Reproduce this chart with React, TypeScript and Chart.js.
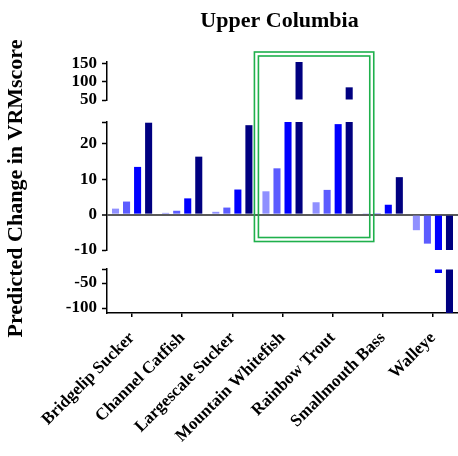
import React, { useEffect, useRef } from 'react';
import { Chart, registerables } from 'chart.js';

Chart.register(...registerables);

// ---------- data ----------
const TITLE = 'Upper Columbia';
const Y_TITLE = 'Predicted Change in VRMscore';
const CATEGORIES = [
  'Bridgelip Sucker',
  'Channel Catfish',
  'Largescale Sucker',
  'Mountain Whitefish',
  'Rainbow Trout',
  'Smallmouth Bass',
  'Walleye',
];
const SERIES_1 = [1.7, 0.5, 0.8, 6.6, 3.5, 0.2, -4.4];
const SERIES_2 = [3.7, 1.1, 2.0, 13.1, 7.0, 0.4, -8.2];
const SERIES_3 = [13.5, 4.6, 7.1, 26.5, 25.6, 2.8, -30];
const SERIES_4 = [26, 16.4, 25.3, 155, 85, 10.6, -110];
const SERIES = [SERIES_1, SERIES_2, SERIES_3, SERIES_4];
const SERIES_COLORS = ['#9090ff', '#5c5cff', '#0000ff', '#000080'];

// broken y axis: three panels
const TOP_RANGE = [50, 155];
const TOP_TICKS = [50, 100, 150];
const MID_RANGE = [-10, 26.2];
const MID_TICKS = [-10, 0, 10, 20];
const BOT_RANGE = [-110, -22];
const BOT_TICKS = [-100, -50];

const HIGHLIGHT = ['Mountain Whitefish', 'Rainbow Trout'];
const HIGHLIGHT_BOTTOM_VALUE = -7.6;

// ---------- layout / style ----------
const W = 458;
const H = 456;
const AXIS_LEFT = 107;
const X_AXIS_H = 143;
const FONT = 'Liberation Serif';

// listed bottom-to-top (Chart.js stacks left axes from the bottom up)
const PANELS = [
  { id: 'yBot', range: BOT_RANGE, ticks: BOT_TICKS, cap: true, weight: 44 },
  { id: 'gap2', spacer: true, weight: 19 },
  { id: 'yMid', range: MID_RANGE, ticks: MID_TICKS, cap: true, weight: 128 },
  { id: 'gap1', spacer: true, weight: 22 },
  { id: 'yTop', range: TOP_RANGE, ticks: TOP_TICKS, cap: false, weight: 38 },
];
const PANEL_ORDER_FOR_DATA = ['yTop', 'yMid', 'yBot'];

function panelData(values: number[], range: number[]) {
  const [mn, mx] = range;
  return values.map((v) => {
    if (mn >= 0) return v > mn ? Math.min(v, mx) : null;
    if (mx <= 0) return v < mx ? Math.max(v, mn) : null;
    return Math.max(mn, Math.min(mx, v));
  });
}
function panelBase(range: number[]) {
  const [mn, mx] = range;
  if (mn >= 0) return mn;
  if (mx <= 0) return mx;
  return 0;
}

const tickFont = { family: FONT, weight: 'bold' as const, size: 17 };

function buildScales() {
  const scales: any = {
    x: {
      type: 'category',
      labels: CATEGORIES,
      stacked: true,
      offset: true,
      border: { display: true, color: '#000', width: 1.5 },
      grid: {
        display: true,
        offset: false,
        drawOnChartArea: false,
        drawTicks: true,
        tickLength: 4,
        color: '#000',
        lineWidth: 1.5,
      },
      ticks: {
        minRotation: 45,
        maxRotation: 45,
        autoSkip: false,
        color: '#000',
        font: tickFont,
        padding: 11,
      },
      afterFit: (s: any) => {
        s.height = X_AXIS_H;
        s.paddingLeft = 0;
        s.paddingRight = 0;
      },
    },
  };
  PANELS.forEach((p: any) => {
    if (p.spacer) {
      scales[p.id] = {
        type: 'linear',
        axis: 'y',
        position: 'left',
        stack: 'v',
        stackWeight: p.weight,
        min: 0,
        max: 1,
        border: { display: false },
        grid: { display: false },
        ticks: { display: false },
        afterFit: (s: any) => {
          s.width = AXIS_LEFT;
        },
      };
      return;
    }
    scales[p.id] = {
      type: 'linear',
      axis: 'y',
      position: 'left',
      stack: 'v',
      stackWeight: p.weight,
      stacked: false,
      min: p.range[0],
      max: p.range[1],
      border: { display: true, color: '#000', width: 1.5 },
      grid: {
        drawOnChartArea: true,
        drawTicks: true,
        tickLength: 5,
        tickColor: '#000',
        tickWidth: 1.5,
        color: (ctx: any) => (ctx.tick && ctx.tick.value === 0 ? '#5a5a5a' : 'rgba(0,0,0,0)'),
        lineWidth: (ctx: any) => (ctx.tick && ctx.tick.value === 0 ? 2 : 1),
      },
      afterBuildTicks: (s: any) => {
        const vals = p.cap ? [...p.ticks, p.range[1]] : [...p.ticks];
        s.ticks = vals.map((v: number) => ({ value: v }));
      },
      afterFit: (s: any) => {
        s.width = AXIS_LEFT;
      },
      ticks: {
        autoSkip: false,
        color: '#000',
        font: tickFont,
        padding: 5,
        callback: (v: any) => (p.ticks.includes(v) ? String(v) : ''),
      },
    };
  });
  return scales;
}

function buildDatasets() {
  const ds: any[] = [];
  SERIES.forEach((values, si) => {
    PANEL_ORDER_FOR_DATA.forEach((id) => {
      const p: any = PANELS.find((q) => q.id === id);
      ds.push({
        label: `Series ${si + 1}`,
        data: panelData(values, p.range),
        base: panelBase(p.range),
        yAxisID: p.id,
        xAxisID: 'x',
        stack: 's' + si,
        backgroundColor: SERIES_COLORS[si],
        borderWidth: 0,
        barPercentage: 0.64,
        categoryPercentage: 0.88,
      });
    });
  });
  return ds;
}

const annotationPlugin = {
  id: 'annot',
  afterDraw(chart: any) {
    const { ctx, chartArea, scales } = chart;
    ctx.save();
    // title
    ctx.fillStyle = '#000';
    ctx.font = `bold 22px "${FONT}"`;
    ctx.textAlign = 'center';
    ctx.textBaseline = 'middle';
    ctx.fillText(TITLE, (chartArea.left + chartArea.right) / 2 - 3, chartArea.top - 41);
    // y title
    ctx.save();
    ctx.translate(16, (chartArea.top + chartArea.bottom) / 2 + 1);
    ctx.rotate(-Math.PI / 2);
    ctx.fillText(Y_TITLE, 0, 0);
    ctx.restore();
    // highlight box
    const x = scales.x;
    const iA = CATEGORIES.indexOf(HIGHLIGHT[0]);
    const iB = CATEGORIES.indexOf(HIGHLIGHT[1]);
    const cw = x.getPixelForValue(1) - x.getPixelForValue(0);
    const left = x.getPixelForValue(iA) - 0.56 * cw;
    const right = x.getPixelForValue(iB) + 0.82 * cw;
    const top = chartArea.top - 10;
    const bottom = scales.yMid.getPixelForValue(HIGHLIGHT_BOTTOM_VALUE);
    ctx.strokeStyle = '#1fb04c';
    ctx.lineWidth = 1.6;
    ctx.strokeRect(left, top, right - left, bottom - top);
    ctx.strokeRect(left + 4, top + 4, right - left - 8, bottom - top - 8);
    ctx.restore();
  },
};

export default function App() {
  const ref = useRef<HTMLCanvasElement>(null);
  useEffect(() => {
    if (!ref.current) return;
    Chart.defaults.font.family = FONT;
    const chart = new Chart(ref.current, {
      type: 'bar',
      data: { labels: CATEGORIES, datasets: buildDatasets() },
      options: {
        responsive: false,
        animation: false,
        layout: { padding: { top: 62, left: 0, right: 0, bottom: 0 } },
        plugins: {
          legend: { display: false },
          title: { display: false },
          tooltip: { enabled: false },
        },
        scales: buildScales(),
      },
      plugins: [annotationPlugin],
    } as any);
    return () => chart.destroy();
  }, []);
  return (
    <div style={{ position: 'absolute', left: 0, top: 0, width: W, height: H, background: '#fff' }}>
      <canvas ref={ref} width={W} height={H} style={{ display: 'block', width: W, height: H }} />
    </div>
  );
}
